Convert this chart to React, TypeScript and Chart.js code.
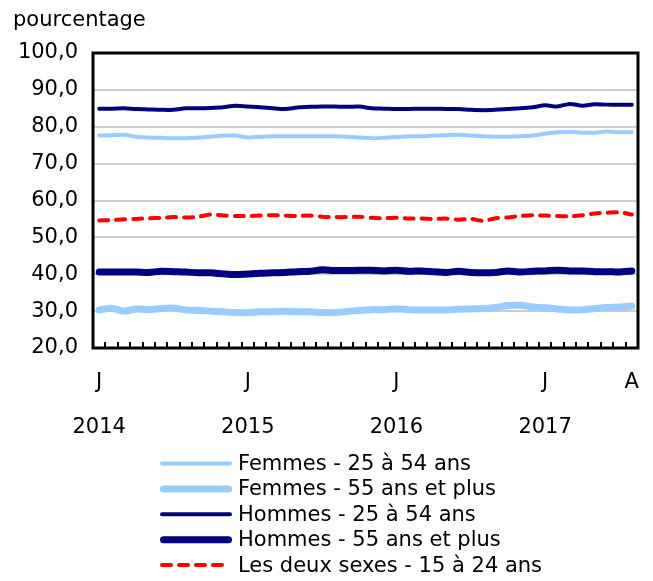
import React, { useEffect, useRef } from "react";
import { Chart, registerables } from "chart.js";

Chart.register(...registerables);

const categories = [
  "2014-01", "2014-02", "2014-03", "2014-04", "2014-05", "2014-06", "2014-07", "2014-08", "2014-09", "2014-10", "2014-11", "2014-12",
  "2015-01", "2015-02", "2015-03", "2015-04", "2015-05", "2015-06", "2015-07", "2015-08", "2015-09", "2015-10", "2015-11", "2015-12",
  "2016-01", "2016-02", "2016-03", "2016-04", "2016-05", "2016-06", "2016-07", "2016-08", "2016-09", "2016-10", "2016-11", "2016-12",
  "2017-01", "2017-02", "2017-03", "2017-04", "2017-05", "2017-06", "2017-07", "2017-08",
];

const monthTicks = [
  { index: 0, month: "J", year: "2014" },
  { index: 12, month: "J", year: "2015" },
  { index: 24, month: "J", year: "2016" },
  { index: 36, month: "J", year: "2017" },
  { index: 43, month: "A", year: "" },
];

const yTicks = [20, 30, 40, 50, 60, 70, 80, 90, 100];

const femmes2554 = [
  77.6, 77.7, 77.8, 77.3, 77.1, 77.0, 76.9, 76.9, 77.1, 77.3, 77.6, 77.6,
  77.1, 77.3, 77.4, 77.4, 77.4, 77.4, 77.4, 77.4, 77.3, 77.1, 76.9, 77.0,
  77.2, 77.4, 77.4, 77.6, 77.7, 77.8, 77.6, 77.4, 77.3, 77.3, 77.4, 77.6,
  78.1, 78.5, 78.6, 78.4, 78.4, 78.7, 78.5, 78.5,
];

const femmes55 = [
  30.3, 30.8, 30.0, 30.6, 30.4, 30.7, 30.8, 30.3, 30.2, 30.0, 29.8, 29.6,
  29.6, 29.8, 29.8, 30.0, 29.8, 29.8, 29.6, 29.6, 29.9, 30.2, 30.4, 30.4,
  30.6, 30.4, 30.3, 30.3, 30.3, 30.5, 30.6, 30.7, 31.0, 31.5, 31.6, 31.1,
  30.9, 30.6, 30.3, 30.4, 30.7, 31.0, 31.1, 31.4,
];

const hommes2554 = [
  84.9, 84.9, 85.0, 84.8, 84.7, 84.6, 84.6, 85.0, 85.0, 85.1, 85.3, 85.7,
  85.5, 85.3, 85.0, 84.8, 85.2, 85.4, 85.5, 85.5, 85.4, 85.5, 85.0, 84.9,
  84.8, 84.8, 84.9, 84.9, 84.8, 84.8, 84.6, 84.5, 84.6, 84.8, 85.0, 85.3,
  85.8, 85.5, 86.2, 85.7, 86.1, 86.0, 86.0, 86.0,
];

const hommes55 = [
  40.6, 40.6, 40.6, 40.6, 40.5, 40.8, 40.7, 40.6, 40.4, 40.4, 40.1, 39.9,
  40.1, 40.3, 40.4, 40.5, 40.7, 40.8, 41.2, 41.0, 41.0, 41.1, 41.1, 40.9,
  41.1, 40.8, 40.9, 40.7, 40.5, 40.8, 40.5, 40.4, 40.5, 40.9, 40.6, 40.8,
  40.9, 41.1, 40.9, 40.9, 40.7, 40.7, 40.6, 40.9,
];

const deuxSexes1524 = [
  54.6, 54.7, 54.9, 55.0, 55.2, 55.3, 55.5, 55.4, 55.6, 56.2, 55.9, 55.8,
  55.8, 55.9, 56.0, 55.9, 55.8, 55.9, 55.6, 55.5, 55.5, 55.6, 55.3, 55.2,
  55.3, 55.1, 55.1, 55.0, 55.1, 54.8, 55.0, 54.5, 55.2, 55.4, 55.8, 56.0,
  55.9, 55.8, 55.7, 56.0, 56.5, 56.7, 56.8, 56.2,
];

const FONT = "'DejaVu Sans', Verdana, sans-serif";
const FONT_SIZE = 21;

const framePlugin = {
  id: "frame",
  afterDatasetsDraw(chart: any) {
    const { ctx, chartArea } = chart;
    const xs = chart.scales.x;
    ctx.save();
    ctx.strokeStyle = "#000";
    ctx.lineWidth = 2;
    for (let i = 1; i < categories.length; i++) {
      const x = Math.round((xs.getPixelForValue(i - 1) + xs.getPixelForValue(i)) / 2);
      ctx.beginPath();
      ctx.moveTo(x, chartArea.bottom);
      ctx.lineTo(x, chartArea.bottom - 6);
      ctx.stroke();
    }
    ctx.lineWidth = 3;
    ctx.strokeRect(chartArea.left, chartArea.top, chartArea.right - chartArea.left, chartArea.bottom - chartArea.top);
    ctx.fillStyle = "#000";
    ctx.font = `${FONT_SIZE}px ${FONT}`;
    ctx.textAlign = "left";
    ctx.textBaseline = "alphabetic";
    ctx.fillText("pourcentage", 5, 18);
    ctx.restore();
  },
};

const legendPlugin = {
  id: "customLegend",
  afterDraw(chart: any) {
    const { ctx, chartArea } = chart;
    ctx.save();
    ctx.font = `${FONT_SIZE}px ${FONT}`;
    ctx.textBaseline = "middle";
    ctx.textAlign = "left";
    chart.data.datasets.forEach((ds: any, i: number) => {
      const y = chartArea.bottom + 115.5 + i * 25.4;
      ctx.beginPath();
      ctx.strokeStyle = ds.borderColor;
      ctx.lineWidth = ds.borderWidth;
      ctx.lineCap = "round";
      ctx.setLineDash(ds.borderDash || []);
      const half = ds.borderWidth / 2;
      ctx.moveTo(152 + half, y);
      ctx.lineTo(224 - half, y);
      ctx.stroke();
      ctx.setLineDash([]);
      ctx.fillStyle = "#000";
      ctx.fillText(ds.label, 230, y + 1);
    });
    ctx.restore();
  },
};

export default function App() {
  const ref = useRef<HTMLCanvasElement | null>(null);

  useEffect(() => {
    if (!ref.current) return;
    const tickMap: Record<number, { month: string; year: string }> = {};
    monthTicks.forEach((t) => (tickMap[t.index] = t));
    const chart = new Chart(ref.current, {
      type: "line",
      data: {
        labels: categories,
        datasets: [
          { label: "Femmes - 25 à 54 ans", data: femmes2554, borderColor: "#99ccff", borderWidth: 4 },
          { label: "Femmes - 55 ans et plus", data: femmes55, borderColor: "#99ccff", borderWidth: 7 },
          { label: "Hommes - 25 à 54 ans", data: hommes2554, borderColor: "#000080", borderWidth: 4 },
          { label: "Hommes - 55 ans et plus", data: hommes55, borderColor: "#000080", borderWidth: 7 },
          { label: "Les deux sexes - 15 à 24 ans", data: deuxSexes1524, borderColor: "#ff0000", borderWidth: 4, borderDash: [9, 8] },
        ].map((d) => ({
          ...d,
          pointRadius: 0,
          pointHoverRadius: 0,
          tension: 0.3,
          fill: false,
          borderCapStyle: "round" as const,
          borderJoinStyle: "round" as const,
        })),
      },
      options: {
        animation: false,
        responsive: true,
        maintainAspectRatio: false,
        layout: { padding: { top: 45, left: 0, right: 7, bottom: 125 } },
        plugins: { legend: { display: false }, tooltip: { enabled: false }, title: { display: false } },
        scales: {
          x: {
            type: "category",
            offset: true,
            grid: { display: false, drawTicks: false },
            border: { display: false },
            afterFit: (s: any) => {
              s.height = 100;
              s.paddingLeft = 0;
              s.paddingRight = 0;
            },
            ticks: {
              autoSkip: false,
              maxRotation: 0,
              minRotation: 0,
              padding: 24,
              color: "#000",
              font: { family: FONT, size: FONT_SIZE, lineHeight: 1.05 },
              callback: (_v: any, i: number) => {
                const t = tickMap[i];
                return t ? [t.month, "", t.year] : "";
              },
            },
          },
          y: {
            min: 20,
            max: 100,
            afterBuildTicks: (s: any) => {
              s.ticks = yTicks.map((v) => ({ value: v }));
            },
            afterFit: (s: any) => {
              s.width = 85;
            },
            grid: { color: "#cccccc", lineWidth: 2, drawTicks: false },
            border: { display: false },
            ticks: {
              padding: 15,
              color: "#000",
              font: { family: FONT, size: FONT_SIZE },
              callback: (v: any) => Number(v).toFixed(1).replace(".", ","),
            },
          },
        },
      },
      plugins: [framePlugin, legendPlugin],
    });
    return () => chart.destroy();
  }, []);

  return (
    <div style={{ width: 637, height: 565, position: "relative" }}>
      <canvas ref={ref} />
    </div>
  );
}
